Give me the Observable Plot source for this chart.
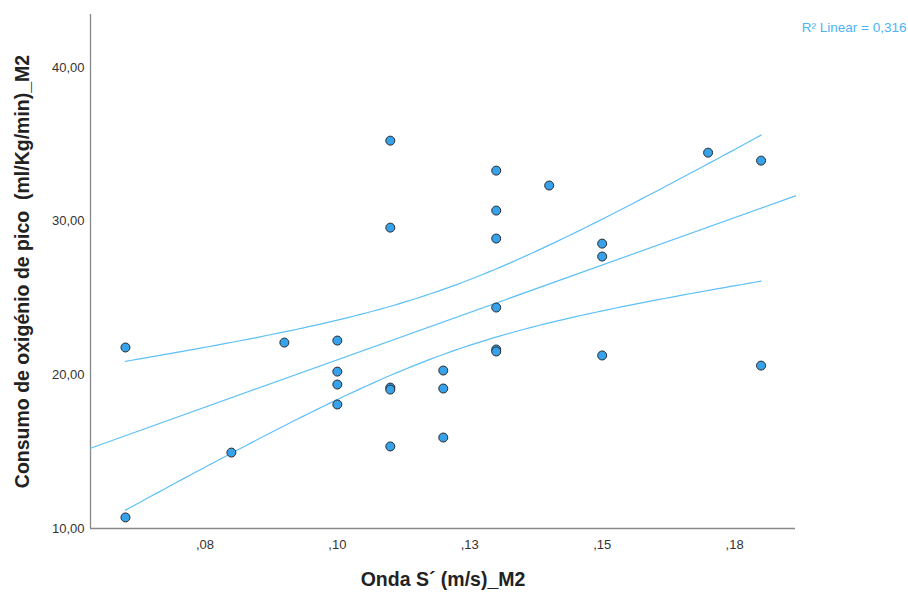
<!DOCTYPE html>
<html><head><meta charset="utf-8">
<script src="https://cdn.jsdelivr.net/npm/d3@7"></script>
<script src="https://cdn.jsdelivr.net/npm/@observablehq/plot@0.6"></script>
<style>
body{margin:0;background:#fff}
#chart svg{font-family:"Liberation Sans",Arial,sans-serif}
#chart svg text{white-space:pre}
</style>
</head><body><div id="chart"></div>
<script>
// Onda S' (m/s)
const xValues = [0.06,0.06, 0.08, 0.09, 0.10,0.10,0.10,0.10, 0.11,0.11,0.11,0.11,0.11, 0.12,0.12,0.12, 0.13,0.13,0.13,0.13,0.13,0.13, 0.14, 0.15,0.15,0.15, 0.17, 0.18,0.18];
// Consumo de oxigénio de pico
const yValues = [21.78,10.72, 14.94, 22.10, 22.23,20.21,19.37,18.07, 35.24,29.58,19.17,19.04,15.34, 20.28,19.11,15.92, 33.29,30.69,28.87,24.38,21.65,21.52, 32.32, 28.54,27.70,21.26, 34.46, 33.94,20.60];
const xDomain = [0.0534, 0.1865];
const yDomain = [10, 43.45];
const xTicks = [0.075, 0.1, 0.125, 0.15, 0.175];
const xTickLabels = [",08", ",10", ",13", ",15", ",18"];
const yTicks = [10, 20, 30, 40];
const yTickLabels = ["10,00", "20,00", "30,00", "40,00"];
const xTitle = "Onda S´ (m/s)_M2";
const yTitle = "Consumo de oxigénio de pico  (ml/Kg/min)_M2";
const r2Label = "R² Linear = 0,316";

const points = xValues.map((x, i) => ({x, y: yValues[i]}));

// least squares fit and 95% confidence band of the mean
const n = points.length;
const xbar = d3.mean(xValues), ybar = d3.mean(yValues);
const Sxx = d3.sum(xValues, x => (x - xbar) ** 2);
const Sxy = d3.sum(points, p => (p.x - xbar) * (p.y - ybar));
const b = Sxy / Sxx, a = ybar - b * xbar;
const sse = d3.sum(points, p => (p.y - (a + b * p.x)) ** 2);
const s = Math.sqrt(sse / (n - 2));
const t = 2.052;
const [xmin, xmax] = d3.extent(xValues);
const samples = d3.range(0, 101).map(i => xmin + (xmax - xmin) * i / 100);
const band = samples.map(x => {
  const yh = a + b * x;
  const h = t * s * Math.sqrt(1 / n + (x - xbar) ** 2 / Sxx);
  return {x, lo: yh - h, hi: yh + h};
});
const fit = xDomain.map(x => ({x, y: a + b * x}));

const lineColor = "#5ec0f7";
const chart = Plot.plot({
  width: 908, height: 592,
  marginLeft: 90, marginRight: 113, marginTop: 14, marginBottom: 64,
  style: {background: "#fff", fontSize: "13px", color: "#333", fontFamily: "Liberation Sans, Arial, sans-serif"},
  x: {domain: xDomain, ticks: xTicks, tickFormat: (d, i) => xTickLabels[i], tickSize: 0, tickPadding: 11, label: null},
  y: {domain: yDomain, ticks: yTicks, tickFormat: (d, i) => yTickLabels[i], tickSize: 0, tickPadding: 6, label: null},
  marks: [
    Plot.ruleX([xDomain[0]], {stroke: "#888", strokeWidth: 1.3}),
    Plot.ruleY([yDomain[0]], {stroke: "#888", strokeWidth: 1.3}),
    Plot.line(fit, {x: "x", y: "y", stroke: lineColor, strokeWidth: 1.2}),
    Plot.line(band, {x: "x", y: "hi", stroke: lineColor, strokeWidth: 1.2}),
    Plot.line(band, {x: "x", y: "lo", stroke: lineColor, strokeWidth: 1.2}),
    Plot.dot(points, {x: "x", y: "y", r: 4.5, fill: "#36a2ec", stroke: "#2a2a2a", strokeWidth: 1}),
    Plot.text([xTitle], {frameAnchor: "bottom", textAnchor: "middle", dy: 57, fontSize: 19.5, fontWeight: "bold", fill: "#222"}),
    Plot.text([yTitle], {frameAnchor: "left", textAnchor: "middle", dx: -68, rotate: -90, fontSize: 19.5, fontWeight: "bold", fill: "#222"}),
    Plot.text([r2Label], {frameAnchor: "top-right", textAnchor: "end", dx: 111, dy: 8, fontSize: 13.5, fill: "#4cb3f5"})
  ]
});
document.getElementById("chart").appendChild(chart);
</script>
</body></html>
